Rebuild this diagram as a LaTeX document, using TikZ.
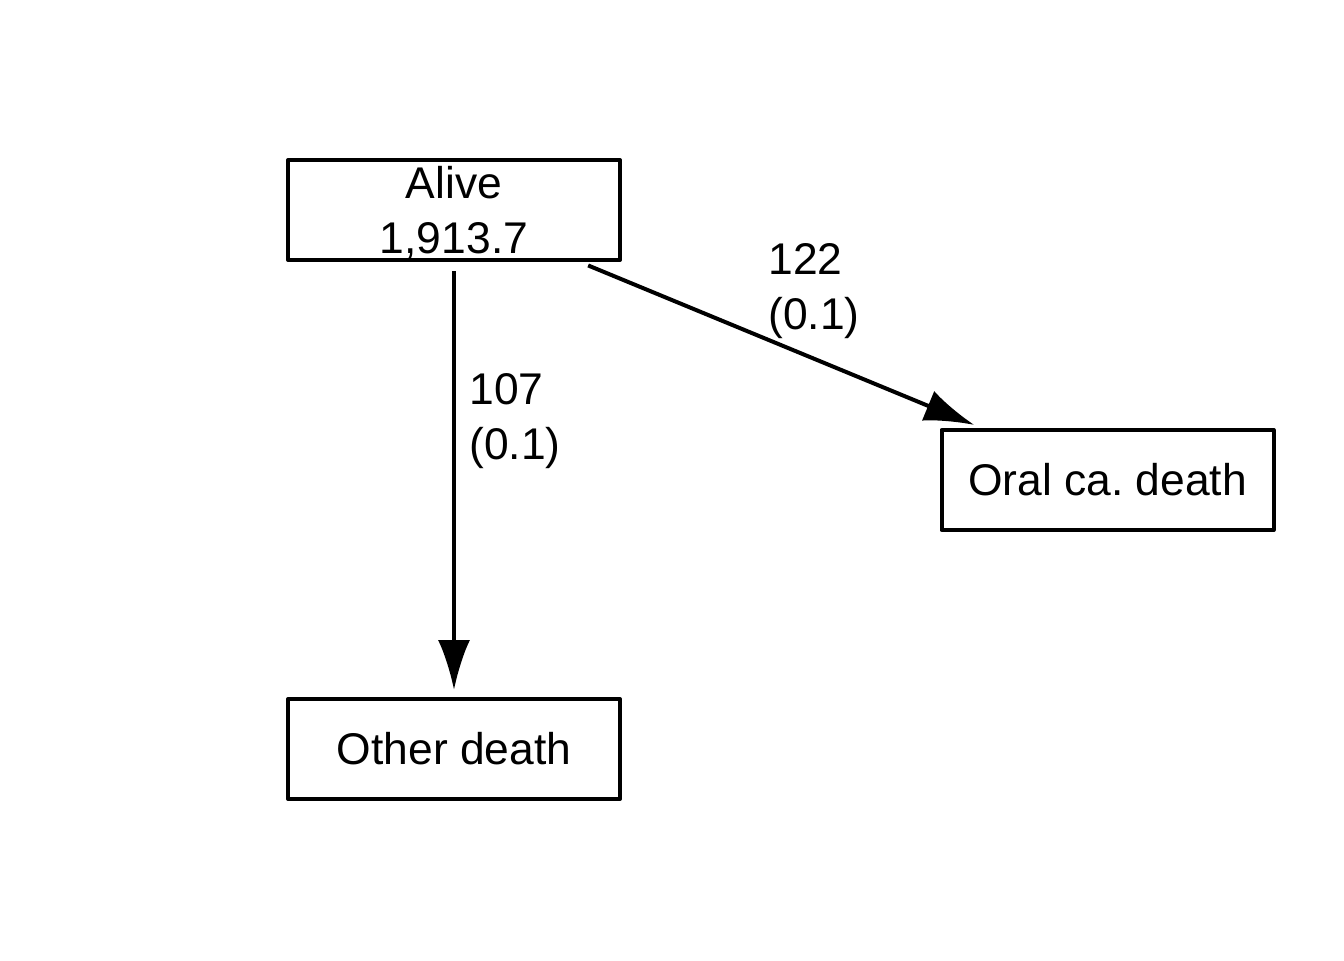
\documentclass[tikz,border=0pt]{standalone}
\usepackage{fontspec}
\setmainfont{Liberation Sans}
\usetikzlibrary{arrows.meta}
\frenchspacing
\begin{document}
\begin{tikzpicture}[x=0.5pt,y=-0.5pt,
  txt/.style={font=\fontsize{22.2}{27.5}\selectfont},
  statebox/.style={txt,draw,line width=2pt,line join=round,minimum width=166pt,minimum height=50pt,inner sep=0pt,align=center},
  lbl/.style={txt,anchor=north west,inner sep=0pt,align=left},
  trans/.style={line width=2pt,-{Latex[length=25pt,width=16pt]},shorten <=4.5pt,shorten >=4pt}]
\useasboundingbox (0,0) rectangle (1344,960);
\node[statebox,text depth=0pt] (alive) at (454,210) {Alive\\1,913.7};
\node[statebox] (oral) at (1107.5,480) {Oral ca. death};
\node[statebox] (other) at (454,749) {Other death};
\draw[trans,shorten >=3.5pt] (alive) -- (other);
\draw[trans] (alive) -- (oral);
\node[lbl] (l1) at (469,373) {107\\(0.1)};
\node[lbl] (l2) at (768,243) {122\\(0.1)};
\end{tikzpicture}
\end{document}
